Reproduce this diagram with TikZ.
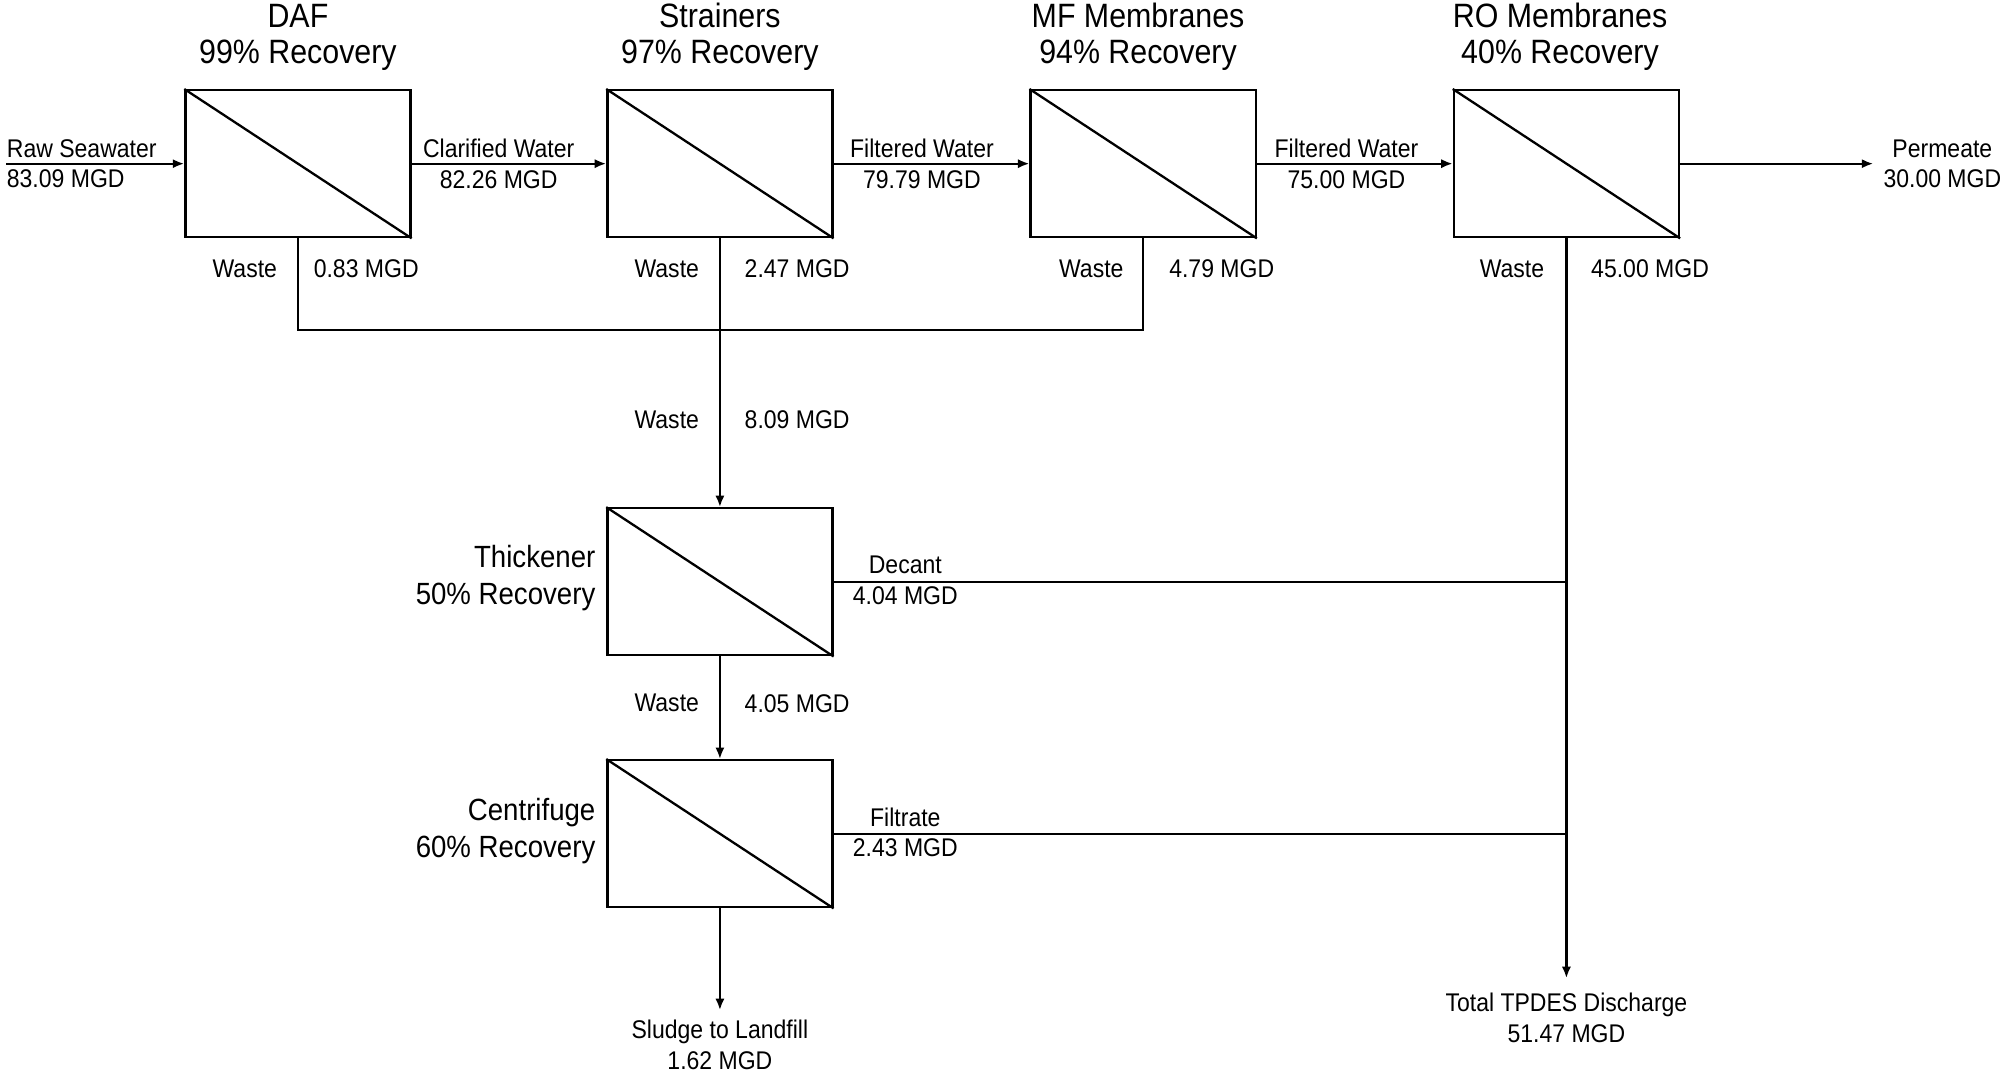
\documentclass[tikz,border=0pt]{standalone}
\usepackage{fontspec}
\setmainfont[FakeStretch=0.9]{Liberation Sans}
\usetikzlibrary{arrows.meta}
\begin{document}
\begin{tikzpicture}[x=0.5pt,y=-0.5pt,
  unit/.style={draw, line width=0.9pt, minimum width=88pt, minimum height=57.5pt, inner sep=0pt},
  flow/.style={line width=0.9pt},
  arr/.style={flow, -{Latex[length=4.5pt,width=3.6pt]}},
  lbl/.style={font=\fontsize{10}{12}\selectfont, align=center, inner sep=0pt},
  ttl/.style={font=\fontsize{13.2}{14}\selectfont, align=center, inner sep=0pt},
  ttlr/.style={font=\fontsize{12}{14.5}\selectfont, align=right, inner sep=0pt, anchor=east}]
\useasboundingbox (0,0) rectangle (1568,840);

% units
\node[unit] (daf) at (233,128) {};
\node[unit] (str) at (563,128) {};
\node[unit] (mf)  at (894,128) {};
\node[unit] (ro)  at (1225,128) {};
\node[unit] (thk) at (563,455) {};
\node[unit] (cen) at (563,652) {};
\foreach \n in {daf,str,mf,ro,thk,cen}
  \draw[flow] (\n.north west) -- (\n.south east);

% titles
\node[ttl] (tdaf) at (233,29) {DAF\\99\% Recovery};
\node[ttl] (tstr) at (563,29) {Strainers\\97\% Recovery};
\node[ttl] (tmf)  at (890,29) {MF Membranes\\94\% Recovery};
\node[ttl] (tro)  at (1220,29) {RO Membranes\\40\% Recovery};
\node[ttlr] (tthk) at (466,452) {Thickener\\50\% Recovery};
\node[ttlr] (tcen) at (466,650) {Centrifuge\\60\% Recovery};

% coordinates
\coordinate (in) at (5,128);
\coordinate (perm) at (1465,128);
\coordinate (c1) at (233,258);
\coordinate (c3) at (894,258);
\coordinate (j1) at (1225,455);
\coordinate (j2) at (1225,652);
\coordinate (tot) at (1225,765);
\coordinate (sl) at (563,790);

% main line
\draw[arr] (in) -- (daf.west);
\draw[arr] (daf.east) -- (str.west);
\draw[arr] (str.east) -- (mf.west);
\draw[arr] (mf.east) -- (ro.west);
\draw[arr] (ro.east) -- (perm);

% waste collection
\draw[flow] (daf.south) -- (c1) -- (c3) -- (mf.south);
\draw[arr] (str.south) -- (thk.north);
\draw[arr] (thk.south) -- (cen.north);
\draw[arr] (cen.south) -- (sl);
\draw[flow] (thk.east) -- (j1);
\draw[flow] (cen.east) -- (j2);
\draw[arr] (ro.south) -- (tot);

% flow labels
\node[lbl, align=left, anchor=west] (lraw) at (5,128) {Raw Seawater\\83.09 MGD};
\node[lbl] (lcla) at (390,128) {Clarified Water\\82.26 MGD};
\node[lbl] (lfw1) at (721,128) {Filtered Water\\79.79 MGD};
\node[lbl] (lfw2) at (1053,128) {Filtered Water\\75.00 MGD};
\node[lbl] (lper) at (1519,128) {Permeate\\30.00 MGD};
\node[lbl] (ldec) at (708,454) {Decant\\4.04 MGD};
\node[lbl] (lfil) at (708,651) {Filtrate\\2.43 MGD};
\node[lbl] (lsl)  at (563,817) {Sludge to Landfill\\1.62 MGD};
\node[lbl] (ltot) at (1225,796) {Total TPDES Discharge\\51.47 MGD};

% waste labels
\node[lbl, anchor=east] (w1) at (217,210) {Waste};
\node[lbl, anchor=west] (q1) at (245,210) {0.83 MGD};
\node[lbl, anchor=east] (w2) at (547,210) {Waste};
\node[lbl, anchor=west] (q2) at (582,210) {2.47 MGD};
\node[lbl, anchor=east] (w3) at (879,210) {Waste};
\node[lbl, anchor=west] (q3) at (914,210) {4.79 MGD};
\node[lbl, anchor=east] (w4) at (1208,210) {Waste};
\node[lbl, anchor=west] (q4) at (1244,210) {45.00 MGD};
\node[lbl, anchor=east] (w5) at (547,328) {Waste};
\node[lbl, anchor=west] (q5) at (582,328) {8.09 MGD};
\node[lbl, anchor=east] (w6) at (547,550) {Waste};
\node[lbl, anchor=west] (q6) at (582,550) {4.05 MGD};
\end{tikzpicture}
\end{document}
